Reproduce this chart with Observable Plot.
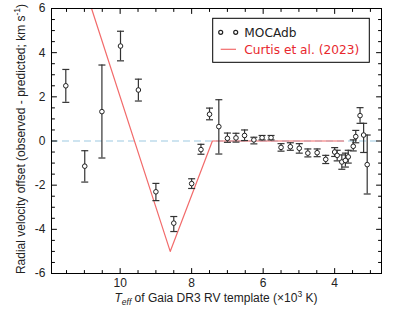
<!DOCTYPE html>
<html><head><meta charset="utf-8">
<script src="https://cdn.jsdelivr.net/npm/d3@7"></script>
<script src="https://cdn.jsdelivr.net/npm/@observablehq/plot@0.6"></script>
<style>body{margin:0;background:#fff;}</style>
</head><body><div id="chart"></div>
<script>
// MOCAdb points: Teff (10^3 K), offset (km/s), error bar low/high
const teff    = [11.52, 10.99, 10.51, 9.99, 9.49, 9.00, 8.50, 8.00, 7.74, 7.50, 7.24, 7.00, 6.76, 6.52, 6.26, 6.03, 5.78, 5.50, 5.24, 4.99, 4.75, 4.49, 4.25, 4.00, 3.93, 3.80, 3.70, 3.62, 3.48, 3.41, 3.29, 3.19, 3.09];
const offset  = [2.50, -1.14, 1.33, 4.30, 2.31, -2.30, -3.72, -1.93, -0.39, 1.21, 0.65, 0.12, 0.14, 0.25, 0.05, 0.15, 0.15, -0.29, -0.26, -0.33, -0.55, -0.53, -0.83, -0.50, -0.65, -0.95, -0.88, -0.72, -0.24, 0.20, 1.15, 0.27, -1.07];
const errLow  = [1.75, -1.86, -0.77, 3.63, 1.81, -2.70, -4.10, -2.15, -0.60, 0.96, -0.59, -0.06, -0.05, 0.02, -0.13, 0.05, 0.05, -0.46, -0.42, -0.55, -0.72, -0.71, -1.02, -0.70, -0.90, -1.28, -1.18, -1.00, -0.45, -0.08, 0.80, -0.52, -2.40];
const errHigh = [3.24, -0.44, 3.44, 4.97, 2.80, -1.92, -3.42, -1.71, -0.15, 1.49, 1.87, 0.36, 0.35, 0.50, 0.17, 0.25, 0.25, -0.12, -0.08, -0.12, -0.36, -0.36, -0.65, -0.30, -0.42, -0.63, -0.55, -0.42, 0.05, 0.48, 1.51, 0.80, 0.27];

// Curtis et al. (2023) relation
const curtisTeff   = [10.8, 8.6, 7.42, 3.75];
const curtisOffset = [6, -5, 0, 0];

// axes
const xMajorTicks = [10, 8, 6, 4];
const xMinorTicks = [3, 3.5, 4.5, 5, 5.5, 6.5, 7, 7.5, 8.5, 9, 9.5, 10.5, 11, 11.5];
const yMajorTicks = [-6, -4, -2, 0, 2, 4, 6];
const yMinorTicks = [-5.5, -5, -4.5, -3.5, -3, -2.5, -1.5, -1, -0.5, 0.5, 1, 1.5, 2.5, 3, 3.5, 4.5, 5, 5.5];
const zeroLine = [0];
const legendLabels = ["MOCAdb", "Curtis et al. (2023)"];

const pts = teff.map((t, i) => ({teff: t, off: offset[i], lo: errLow[i], hi: errHigh[i]}));
const curtis = curtisTeff.map((t, i) => ({teff: t, off: curtisOffset[i]}));

const capSymbol = {draw(ctx) { ctx.moveTo(-3.5, 0); ctx.lineTo(3.5, 0); }};
const tickShape = {draw(ctx, l) { ctx.moveTo(0, 0); ctx.lineTo(0, -l); }};

function ticksX(data, len) {
  return [
    Plot.vector(data, {x: d => d, frameAnchor: "bottom", length: len, rotate: 0, anchor: "start", shape: tickShape, stroke: "black", strokeWidth: 1}),
    Plot.vector(data, {x: d => d, frameAnchor: "top", length: len, rotate: 180, anchor: "start", shape: tickShape, stroke: "black", strokeWidth: 1})
  ];
}
function ticksY(data, len) {
  return [
    Plot.vector(data, {y: d => d, frameAnchor: "left", length: len, rotate: 90, anchor: "start", shape: tickShape, stroke: "black", strokeWidth: 1}),
    Plot.vector(data, {y: d => d, frameAnchor: "right", length: len, rotate: -90, anchor: "start", shape: tickShape, stroke: "black", strokeWidth: 1})
  ];
}

const errColor = "#333";
const chart = Plot.plot({
  width: 393,
  height: 314,
  marginLeft: 51,
  marginRight: 12,
  marginTop: 8,
  marginBottom: 41,
  style: {fontFamily: "'Liberation Sans', Arial, sans-serif", fontSize: "12px", background: "white"},
  x: {domain: [11.92, 2.69], axis: null},
  y: {domain: [-6, 6], axis: null},
  marks: [
    Plot.ruleY(zeroLine, {y: d => d, stroke: "#9ecae1", strokeWidth: 1.2, strokeDasharray: "7,4"}),
    Plot.line(curtis, {x: "teff", y: "off", stroke: "#f26b6b", strokeWidth: 1.2, clip: true}),
    Plot.ruleX(pts, {x: "teff", y1: "lo", y2: "hi", stroke: errColor, strokeWidth: 1.2}),
    Plot.dot(pts, {x: "teff", y: "lo", symbol: capSymbol, stroke: errColor, strokeWidth: 1.2, fill: "none"}),
    Plot.dot(pts, {x: "teff", y: "hi", symbol: capSymbol, stroke: errColor, strokeWidth: 1.2, fill: "none"}),
    Plot.dot(pts, {x: "teff", y: "off", r: 2.3, stroke: "#222", strokeWidth: 1, fill: "white"}),
    ...ticksX(xMajorTicks, 5), ...ticksX(xMinorTicks, 3),
    ...ticksY(yMajorTicks, 5), ...ticksY(yMinorTicks, 3),
    Plot.axisX(xMajorTicks, {tickSize: 0, tickPadding: 5, fontSize: 12, label: null, tickFormat: d => String(d), fill: "#222"}),
    Plot.axisY(yMajorTicks, {tickSize: 0, tickPadding: 6, fontSize: 12, label: null, tickFormat: d => String(d), fill: "#222"}),
    Plot.frame({stroke: "black", strokeWidth: 1})
  ]
});
document.getElementById("chart").appendChild(chart);

const svg = d3.select(chart);
// x label
const xl = svg.append("text").attr("x", 216).attr("y", 302).attr("text-anchor", "middle")
  .attr("font-size", 12).attr("fill", "#222");
xl.append("tspan").attr("font-style", "italic").text("T");
xl.append("tspan").attr("font-style", "italic").attr("font-size", 8.5).attr("dy", 3).text("eff");
xl.append("tspan").attr("dy", -3).text(" of Gaia DR3 RV template (\u00d710");
xl.append("tspan").attr("font-size", 8.5).attr("dy", -5).text("3");
xl.append("tspan").attr("dy", 5).text(" K)");
// y label
const yl = svg.append("text").attr("transform", "translate(25,139) rotate(-90)").attr("text-anchor", "middle")
  .attr("font-size", 12).attr("fill", "#222");
yl.append("tspan").text("Radial velocity offset (observed - predicted; km s");
yl.append("tspan").attr("font-size", 8.5).attr("dy", -5).text("-1");
yl.append("tspan").attr("dy", 5).text(")");

// legend
const lg = svg.append("g").attr("font-family", "'DejaVu Sans', sans-serif").attr("font-size", 12.2).attr("text-anchor", "start");
lg.append("rect").attr("x", 212.7).attr("y", 18.3).attr("width", 156.6).attr("height", 44)
  .attr("fill", "white").attr("stroke", "black").attr("stroke-width", 1);
lg.append("circle").attr("cx", 220.7).attr("cy", 32.3).attr("r", 2).attr("fill", "none").attr("stroke", "#222").attr("stroke-width", 1.2);
lg.append("circle").attr("cx", 235.7).attr("cy", 32.3).attr("r", 2).attr("fill", "none").attr("stroke", "#222").attr("stroke-width", 1.2);
lg.append("text").attr("x", 244.3).attr("y", 36.7).attr("text-anchor", "start").attr("fill", "#222").text(legendLabels[0]);
lg.append("line").attr("x1", 220.7).attr("x2", 236).attr("y1", 49.3).attr("y2", 49.3).attr("stroke", "#f26b6b").attr("stroke-width", 1.2);
lg.append("text").attr("x", 244.3).attr("y", 53.7).attr("text-anchor", "start").attr("fill", "#e8282e").text(legendLabels[1]);
</script>
</body></html>
